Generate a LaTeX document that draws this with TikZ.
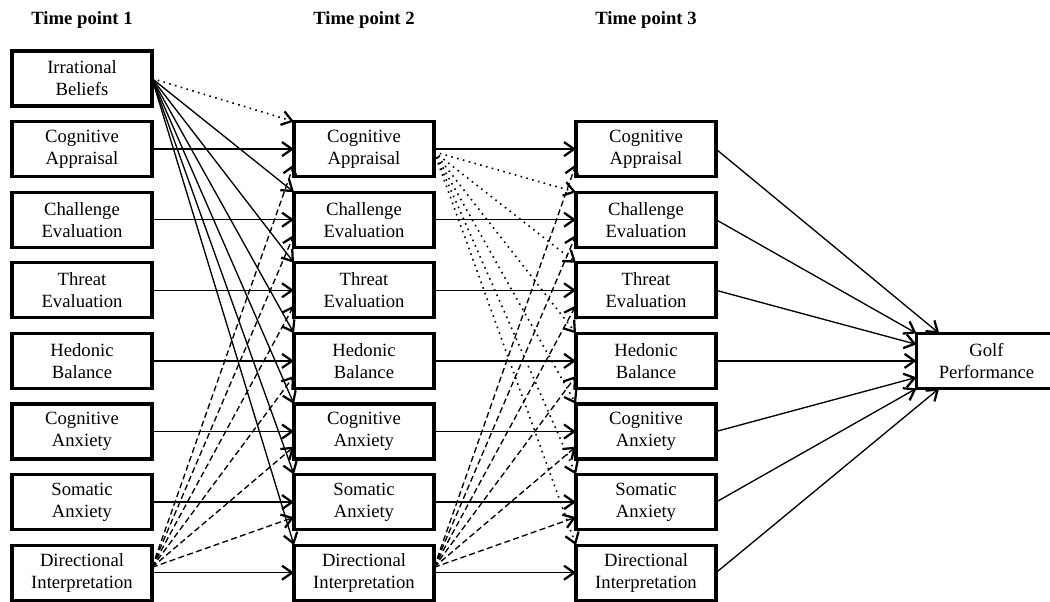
\documentclass[tikz,border=0pt]{standalone}
\usepackage{fontspec}
\setmainfont{Liberation Serif}
\usetikzlibrary{positioning, arrows.meta, calc}

\begin{document}
\begin{tikzpicture}[
        varnode/.style={rectangle, draw=black, line width=2.5pt, minimum width=105pt, minimum height=41.25pt, inner sep=0pt, outer sep=0pt, align=center, font=\fontsize{14pt}{16.5pt}\selectfont},
        timenode/.style={inner sep=0pt, font=\fontsize{14pt}{16.5pt}\selectfont\bfseries},
        solidarrow/.style={line width=1pt, -{Straight Barb[length=7.5pt, width=10.5pt, line width=1.7pt]}},
        dottedarrow/.style={solidarrow, line width=1.2pt, dash pattern=on 1.2pt off 3.3pt},
        dashedarrow/.style={solidarrow, dash pattern=on 4.5pt off 2.5pt},
        node distance=11.7pt and 106.5pt,
]
        \useasboundingbox (-61.5pt,58.875pt) rectangle (726pt,-392.625pt);

        % time point 1
        \node[varnode] (irrone) at (0,0) {Irrational\\Beliefs};
        \node[varnode] (appone) [below=of irrone] {Cognitive\\Appraisal};
        \node[varnode] (chaone) [below=of appone] {Challenge\\Evaluation};
        \node[varnode] (throne) [below=of chaone] {Threat\\Evaluation};
        \node[varnode] (hedone) [below=of throne] {Hedonic\\Balance};
        \node[varnode] (cogone) [below=of hedone] {Cognitive\\Anxiety};
        \node[varnode] (somone) [below=of cogone] {Somatic\\Anxiety};
        \node[varnode] (dirone) [below=of somone] {Directional\\Interpretation};

        % time point 2
        \node[varnode] (apptwo) [right=of appone] {Cognitive\\Appraisal};
        \node[varnode] (chatwo) [below=of apptwo] {Challenge\\Evaluation};
        \node[varnode] (thrtwo) [below=of chatwo] {Threat\\Evaluation};
        \node[varnode] (hedtwo) [below=of thrtwo] {Hedonic\\Balance};
        \node[varnode] (cogtwo) [below=of hedtwo] {Cognitive\\Anxiety};
        \node[varnode] (somtwo) [below=of cogtwo] {Somatic\\Anxiety};
        \node[varnode] (dirtwo) [below=of somtwo] {Directional\\Interpretation};

        % time point 3
        \node[varnode] (appthree) [right=of apptwo] {Cognitive\\Appraisal};
        \node[varnode] (chathree) [below=of appthree] {Challenge\\Evaluation};
        \node[varnode] (thrthree) [below=of chathree] {Threat\\Evaluation};
        \node[varnode] (hedthree) [below=of thrthree] {Hedonic\\Balance};
        \node[varnode] (cogthree) [below=of hedthree] {Cognitive\\Anxiety};
        \node[varnode] (somthree) [below=of cogthree] {Somatic\\Anxiety};
        \node[varnode] (dirthree) [below=of somthree] {Directional\\Interpretation};

        \node[varnode] (golf) [right=150.4pt of hedthree] {Golf\\Performance};

        % headings
        \node[timenode] (timeone) [above=17pt of irrone] {Time point 1};
        \node[timenode] (timetwo) at (timeone -| apptwo) {Time point 2};
        \node[timenode] (timethree) at (timeone -| appthree) {Time point 3};

        % time point 1 -> time point 2
        \draw[dottedarrow] (irrone.east) -- (apptwo.north west);
        \draw[solidarrow] (irrone.east) -- (chatwo.north west);
        \draw[solidarrow] (irrone.east) -- (thrtwo.north west);
        \draw[solidarrow] (irrone.east) -- (hedtwo.north west);
        \draw[solidarrow] (irrone.east) -- (cogtwo.north west);
        \draw[solidarrow] (irrone.east) -- (somtwo.north west);
        \draw[solidarrow] (irrone.east) -- (dirtwo.north west);
        \draw[solidarrow] (appone.east) -- (apptwo.west);
        \draw[solidarrow] (chaone.east) -- (chatwo.west);
        \draw[solidarrow] (throne.east) -- (thrtwo.west);
        \draw[solidarrow] (hedone.east) -- (hedtwo.west);
        \draw[solidarrow] (cogone.east) -- (cogtwo.west);
        \draw[solidarrow] (somone.east) -- (somtwo.west);
        \draw[solidarrow] (dirone.east) -- (dirtwo.west);
        \draw[dashedarrow] ([yshift=4pt]dirone.east) -- ($(apptwo.west)!0.55!(apptwo.south west)$);
        \draw[dashedarrow] ([yshift=4pt]dirone.east) -- ($(chatwo.west)!0.55!(chatwo.south west)$);
        \draw[dashedarrow] ([yshift=4pt]dirone.east) -- ($(thrtwo.west)!0.55!(thrtwo.south west)$);
        \draw[dashedarrow] ([yshift=4pt]dirone.east) -- ($(hedtwo.west)!0.55!(hedtwo.south west)$);
        \draw[dashedarrow] ([yshift=4pt]dirone.east) -- ($(cogtwo.west)!0.55!(cogtwo.south west)$);
        \draw[dashedarrow] ([yshift=4pt]dirone.east) -- ($(somtwo.west)!0.55!(somtwo.south west)$);

        % time point 2 -> time point 3
        \draw[dottedarrow] ([yshift=-2pt]apptwo.east) -- (chathree.north west);
        \draw[dottedarrow] ([yshift=-2pt]apptwo.east) -- (thrthree.north west);
        \draw[dottedarrow] ([yshift=-2pt]apptwo.east) -- (hedthree.north west);
        \draw[dottedarrow] ([yshift=-2pt]apptwo.east) -- (cogthree.north west);
        \draw[dottedarrow] ([yshift=-2pt]apptwo.east) -- (somthree.north west);
        \draw[dottedarrow] ([yshift=-2pt]apptwo.east) -- (dirthree.north west);
        \draw[solidarrow] (apptwo.east) -- (appthree.west);
        \draw[solidarrow] (chatwo.east) -- (chathree.west);
        \draw[solidarrow] (thrtwo.east) -- (thrthree.west);
        \draw[solidarrow] (hedtwo.east) -- (hedthree.west);
        \draw[solidarrow] (cogtwo.east) -- (cogthree.west);
        \draw[solidarrow] (somtwo.east) -- (somthree.west);
        \draw[solidarrow] (dirtwo.east) -- (dirthree.west);
        \draw[dashedarrow] ([yshift=4pt]dirtwo.east) -- ($(appthree.west)!0.55!(appthree.south west)$);
        \draw[dashedarrow] ([yshift=4pt]dirtwo.east) -- ($(chathree.west)!0.55!(chathree.south west)$);
        \draw[dashedarrow] ([yshift=4pt]dirtwo.east) -- ($(thrthree.west)!0.55!(thrthree.south west)$);
        \draw[dashedarrow] ([yshift=4pt]dirtwo.east) -- ($(hedthree.west)!0.55!(hedthree.south west)$);
        \draw[dashedarrow] ([yshift=4pt]dirtwo.east) -- ($(cogthree.west)!0.55!(cogthree.south west)$);
        \draw[dashedarrow] ([yshift=4pt]dirtwo.east) -- ($(somthree.west)!0.55!(somthree.south west)$);

        % time point 3 -> golf performance
        \draw[solidarrow] (appthree.east) -- ([xshift=17pt]golf.north west);
        \draw[solidarrow] (chathree.east) -- (golf.north west);
        \draw[solidarrow] (thrthree.east) -- ($(golf.north west)!0.4!(golf.west)$);
        \draw[solidarrow] (hedthree.east) -- (golf.west);
        \draw[solidarrow] (cogthree.east) -- ($(golf.south west)!0.4!(golf.west)$);
        \draw[solidarrow] (somthree.east) -- (golf.south west);
        \draw[solidarrow] (dirthree.east) -- ([xshift=17pt]golf.south west);
\end{tikzpicture}
\end{document}
